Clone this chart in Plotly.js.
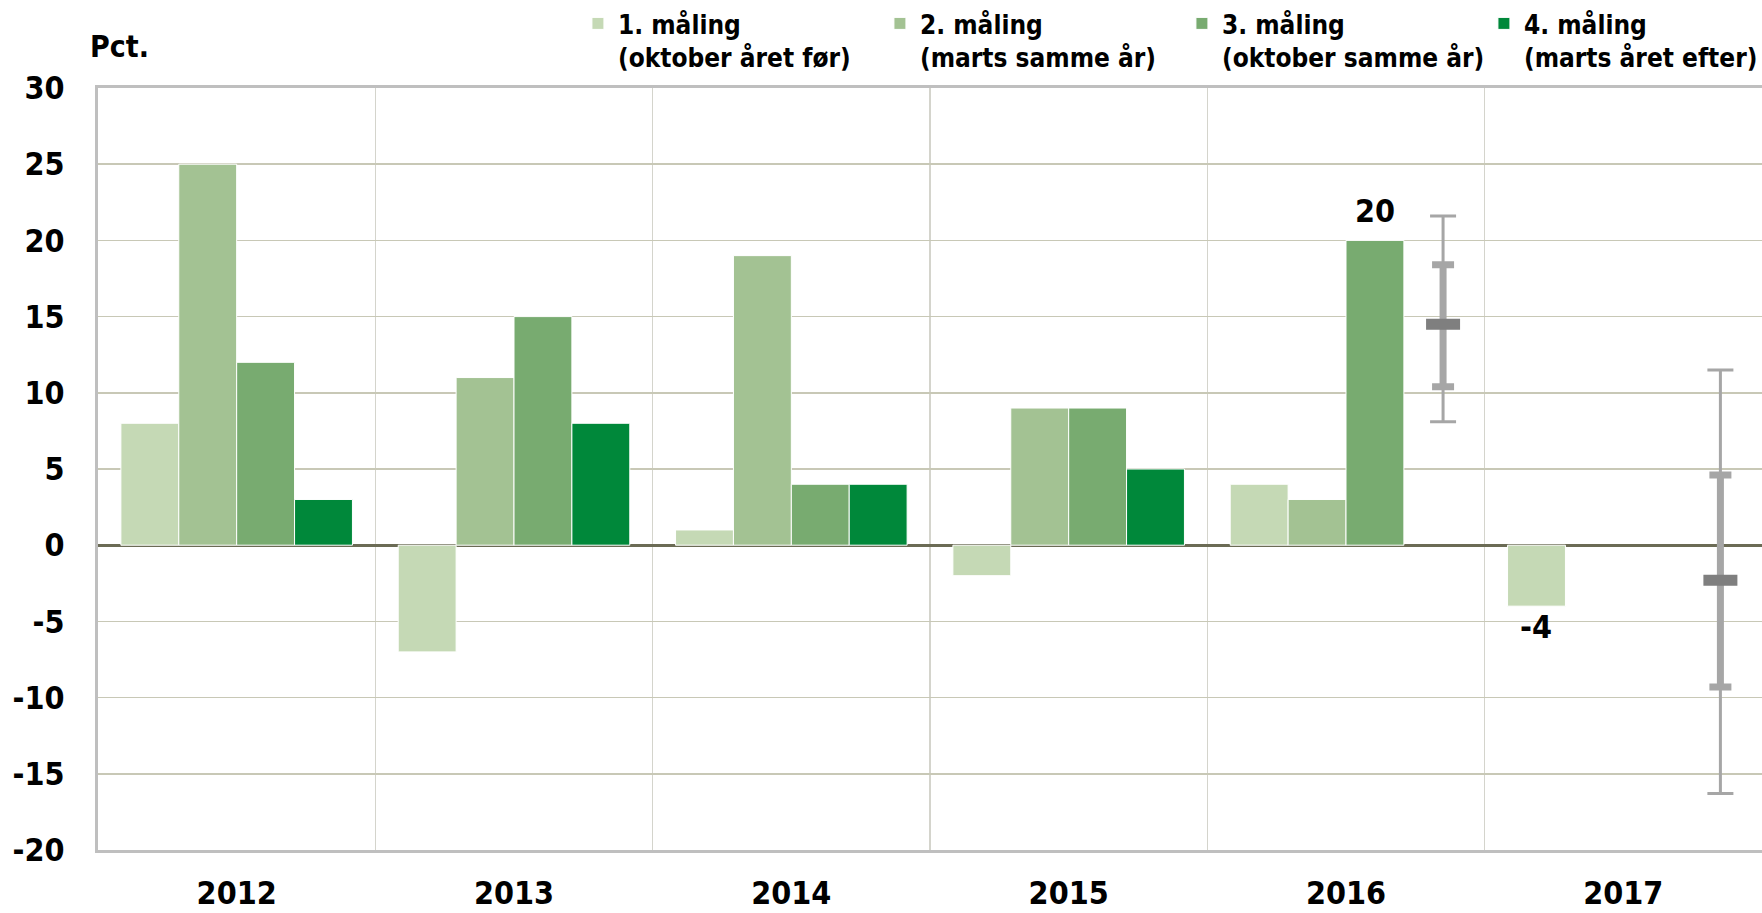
<!DOCTYPE html>
<html>
<head>
<meta charset="utf-8">
<script src="https://cdn.plot.ly/plotly-3.0.1.min.js"></script>
<style>html,body{margin:0;padding:0;background:#fff;}#chart{width:1762px;height:913px;}#err{position:absolute;left:200px;top:300px;font:20px sans-serif;color:red;white-space:pre-wrap;width:1400px;}</style>
</head>
<body>
<div id="chart"></div>
<div id="err"></div>
<script>
window.onerror = function (m, s, l, c, e) { document.getElementById('err').textContent += 'ERR: ' + m + ' @' + l + ':' + c; };
// ---- data ----
var years = ['2012', '2013', '2014', '2015', '2016', '2017'];
var seriesNames = [
  '1. måling<br>(oktober året før)',
  '2. måling<br>(marts samme år)',
  '3. måling<br>(oktober samme år)',
  '4. måling<br>(marts året efter)'
];
var maaling1 = [8, -7, 1, -2, 4, -4];
var maaling2 = [25, 11, 19, 9, 3, null];
var maaling3 = [12, 15, 4, 9, 20, null];
var maaling4 = [3, 8, 4, 5, null, null];
var forecastCenter = [null, null, null, null, 14.5, -2.3];
var innerHigh = [null, null, null, null, 18.4, 4.6];
var innerLow  = [null, null, null, null, 10.4, -9.3];
var outerHigh = [null, null, null, null, 21.6, 11.5];
var outerLow  = [null, null, null, null, 8.1, -16.3];
var yTicks = [-20, -15, -10, -5, 0, 5, 10, 15, 20, 25, 30];

var colors = ['#C5D9B5', '#A3C293', '#78AB70', '#00883A'];
var FONT = '"DejaVu Sans Condensed", "Liberation Sans Narrow", "Arial Narrow", sans-serif';

function diff(a, b) { return a.map(function (v, i) { return (v === null || b[i] === null) ? null : v - b[i]; }); }

var seriesData = [maaling1, maaling2, maaling3, maaling4];
var traces = seriesData.map(function (vals, k) {
  return {
    type: 'bar', x: years.slice(), y: vals, name: seriesNames[k],
    offsetgroup: 'g' + (k + 1),
    marker: { color: colors[k], line: { color: '#FFFFFF', width: 1 } }
  };
});

// forecast intervals: transparent bars (overlay, shifted into the 4th slot) carrying error bars
function errTrace(high, low, thick, w, col) {
  return {
    type: 'bar', x: years.slice(), y: forecastCenter, showlegend: false,
    offset: 0.25, width: 0.2,
    marker: { color: 'rgba(0,0,0,0)', line: { width: 0 } },
    error_y: { type: 'data', symmetric: false, array: diff(high, forecastCenter), arrayminus: diff(forecastCenter, low),
      color: col, thickness: thick, width: w, visible: true }
  };
}
traces.push(errTrace(outerHigh, outerLow, 3, 13, '#A6A6A6'));
traces.push(errTrace(innerHigh, innerLow, 7, 11, '#A6A6A6'));
traces.push(errTrace(forecastCenter, forecastCenter, 11, 17, '#7F7F7F'));

var i16 = years.indexOf('2016'), i17 = years.indexOf('2017');

var layout = {
  width: 1762, height: 913,
  margin: { l: 98, r: 0, t: 88, b: 63 },
  paper_bgcolor: '#FFFFFF', plot_bgcolor: '#FFFFFF',
  barmode: 'group', bargap: 0.165, bargroupgap: 0,
  font: { family: FONT, color: '#000000', size: 32, weight: 'bold' },
  xaxis: {
    type: 'category', categoryorder: 'array', categoryarray: years, range: [-0.5, 5.5],
    tickson: 'boundaries', showgrid: true, gridcolor: '#D4D4CC', gridwidth: 1.5,
    showline: true, linecolor: '#BFBFBF', linewidth: 3, mirror: true, ticks: '', tickangle: 0,
    tickfont: { family: FONT, size: 32, weight: 'bold', color: '#000' }, ticklabelstandoff: 13,
    zeroline: false, automargin: false
  },
  yaxis: {
    range: [-20, 30], tickmode: 'array', tickvals: yTicks, ticktext: yTicks.map(String),
    showgrid: true, gridcolor: '#C8C8B6', gridwidth: 1.5,
    zeroline: true, zerolinecolor: '#6B6B55', zerolinewidth: 3,
    showline: true, linecolor: '#BFBFBF', linewidth: 3, ticks: '', ticklabelstandoff: 24,
    tickfont: { family: FONT, size: 32, weight: 'bold', color: '#000' }, automargin: false
  },
  showlegend: true,
  legend: {
    orientation: 'h', xref: 'container', yref: 'container', x: 0.328, xanchor: 'left', y: 1.0, yanchor: 'top',
    font: { family: FONT, size: 26, weight: 'bold', color: '#000' },
    valign: 'top', entrywidth: 257, entrywidthmode: 'pixels', bgcolor: 'rgba(0,0,0,0)', traceorder: 'normal'
  },
  annotations: [
    { xref: 'paper', yref: 'paper', x: -0.006, y: 1, xanchor: 'left', yanchor: 'bottom', yshift: 22,
      text: 'Pct.', showarrow: false, font: { family: FONT, size: 30, weight: 'bold', color: '#000' } },
    { x: i16, y: maaling3[i16], xref: 'x', yref: 'y', xshift: 29, yshift: 8, yanchor: 'bottom',
      text: String(maaling3[i16]), showarrow: false, font: { family: FONT, size: 32, weight: 'bold', color: '#000' } },
    { x: i17, y: maaling1[i17], xref: 'x', yref: 'y', xshift: -87, yshift: 0, yanchor: 'top',
      text: String(maaling1[i17]), showarrow: false, font: { family: FONT, size: 32, weight: 'bold', color: '#000' } }
  ]
};

try {
  Plotly.newPlot('chart', traces, layout, { displayModeBar: false, staticPlot: true })
    .catch(function (e) { document.getElementById('err').textContent += 'PROMISE: ' + e; });
} catch (e) { document.getElementById('err').textContent += 'CATCH: ' + e; }
</script>
</body>
</html>
